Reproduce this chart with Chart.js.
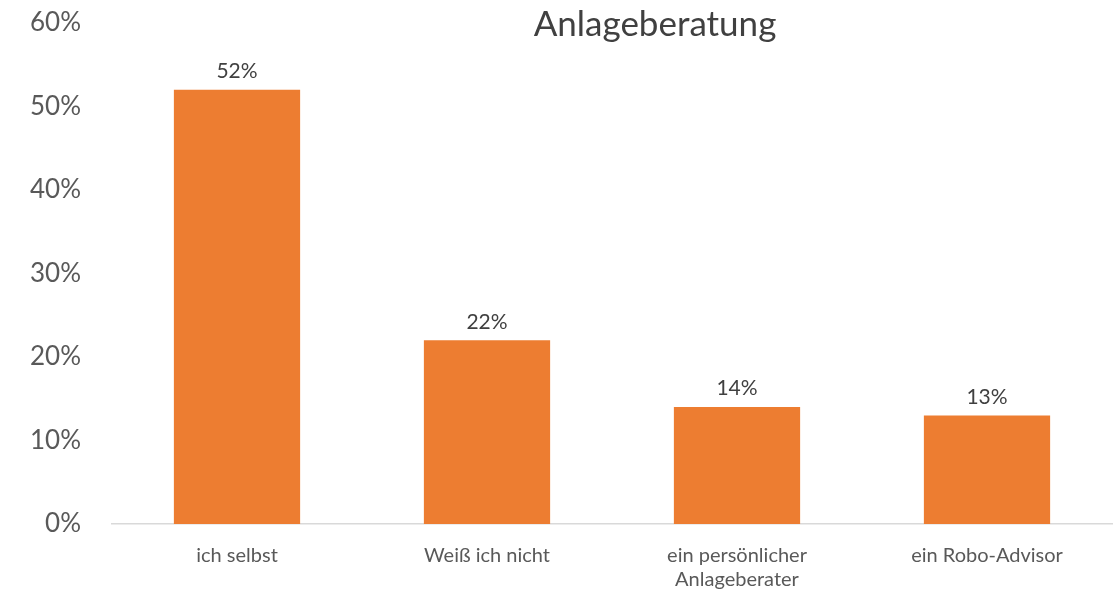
<!DOCTYPE html>
<html>
<head>
<meta charset="utf-8">
<script src="https://cdn.jsdelivr.net/npm/chart.js@4"></script>
<style>
    html, body { margin: 0; padding: 0; background: #fff; }
    #wrap { width: 1120px; height: 594px; }
</style>
</head>
<body>
<div id="wrap"><canvas id="chart" width="1120" height="594"></canvas></div>
<script>
// Chart data
const categories = ['ich selbst', 'Weiß ich nicht', ['ein persönlicher', 'Anlageberater'], 'ein Robo-Advisor'];
const shares = [52, 22, 14, 13];
const yTicks = [0, 10, 20, 30, 40, 50, 60];
const chartTitle = 'Anlageberatung';

const FONT = 'Lato, "Open Sans", sans-serif';

// Value labels above each bar
const valueLabels = {
    id: 'valueLabels',
    afterDatasetsDraw(chart) {
        const ctx = chart.ctx;
        const meta = chart.getDatasetMeta(0);
        ctx.save();
        ctx.font = '21px ' + FONT;
        ctx.fillStyle = '#404040';
        ctx.textAlign = 'center';
        ctx.textBaseline = 'bottom';
        meta.data.forEach(function (bar, i) {
            ctx.fillText(shares[i] + '%', bar.x, bar.y - 8);
        });
        ctx.restore();
    }
};

// Title drawn over the plot, like the original
const overTitle = {
    id: 'overTitle',
    afterDraw(chart) {
        const ctx = chart.ctx;
        ctx.save();
        ctx.font = '35px ' + FONT;
        ctx.fillStyle = '#404040';
        ctx.textAlign = 'center';
        ctx.textBaseline = 'middle';
        ctx.fillText(chartTitle, 655, 25);
        ctx.restore();
    }
};

new Chart(document.getElementById('chart'), {
    type: 'bar',
    data: {
        labels: categories,
        datasets: [{
            data: shares,
            backgroundColor: '#ED7D31',
            borderWidth: 0,
            barPercentage: 0.505,
            categoryPercentage: 1.0
        }]
    },
    options: {
        responsive: false,
        animation: false,
        layout: {
            padding: { top: 23, right: 8, left: 0, bottom: 0 }
        },
        plugins: {
            legend: { display: false },
            tooltip: { enabled: false },
            title: { display: false }
        },
        scales: {
            x: {
                grid: { display: false, drawTicks: false },
                border: { display: true, color: '#D9D9D9', width: 1.5 },
                ticks: {
                    color: '#595959',
                    font: { family: FONT, size: 20 },
                    padding: 20,
                    maxRotation: 0
                },
                afterFit: function (scale) {
                    scale.height = 70;
                    scale.paddingLeft = 0;
                    scale.paddingRight = 0;
                }
            },
            y: {
                min: 0,
                max: 60,
                afterBuildTicks: function (scale) {
                    scale.ticks = yTicks.map(v => ({ value: v }));
                },
                grid: { display: false, drawTicks: false },
                border: { display: false },
                ticks: {
                    color: '#595959',
                    font: { family: FONT, size: 26 },
                    padding: 31,
                    callback: function (value) { return value + '%'; }
                },
                afterFit: function (scale) {
                    scale.width = 112;
                    scale.paddingTop = 0;
                    scale.paddingBottom = 0;
                }
            }
        }
    },
    plugins: [valueLabels, overTitle]
});
</script>
</body>
</html>
